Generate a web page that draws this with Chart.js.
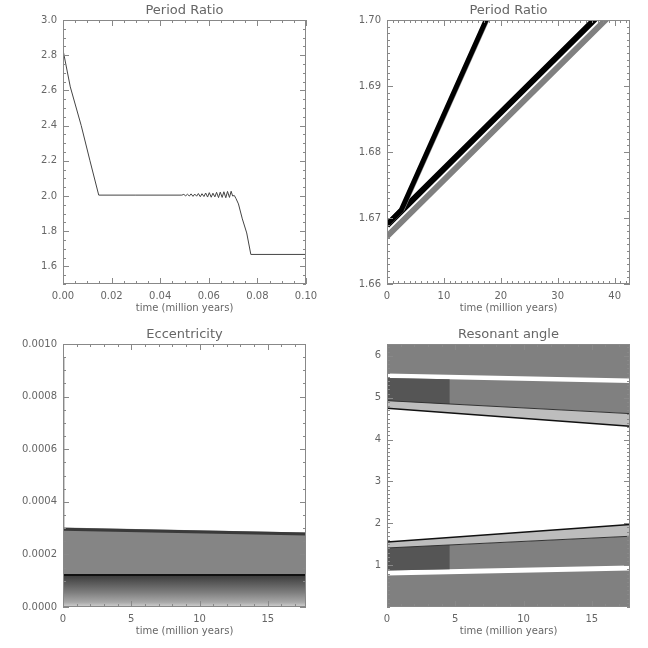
<!DOCTYPE html>
<html>
<head>
<meta charset="utf-8">
<script src="https://cdn.jsdelivr.net/npm/chart.js@4.4.1/dist/chart.umd.min.js"></script>
<style>
  body { margin: 0; background: #fff; }
  #wrap { position: relative; width: 648px; height: 648px; }
  canvas { position: absolute; }
</style>
</head>
<body>
<div id="wrap">
  <canvas id="c1" width="324" height="324" style="left:0;top:0"></canvas>
  <canvas id="c2" width="324" height="324" style="left:324px;top:0"></canvas>
  <canvas id="c3" width="324" height="324" style="left:0;top:324px"></canvas>
  <canvas id="c4" width="324" height="324" style="left:324px;top:324px"></canvas>
</div>
<script>
// top left: period ratio during migration
var ratioTime = [0, 0.0030, 0.0075, 0.0111, 0.0147, 0.0300, 0.0489,
  0.0497, 0.0505, 0.0512, 0.0520, 0.0527, 0.0535, 0.0542, 0.0550, 0.0557, 0.0565,
  0.0572, 0.0580, 0.0587, 0.0595, 0.0602, 0.0610, 0.0617, 0.0625, 0.0632, 0.0640,
  0.0647, 0.0655, 0.0662, 0.0670, 0.0677, 0.0685, 0.0692, 0.0698,
  0.0705, 0.0712, 0.0722, 0.0738, 0.0756, 0.0773, 0.1000];
var ratioValue = [2.83, 2.62, 2.40, 2.20, 2.005, 2.005, 2.005,
  2.009, 2.001, 2.010, 2.000, 2.012, 1.998, 2.011, 1.999, 2.014, 1.996,
  2.013, 1.997, 2.017, 1.994, 2.019, 1.993, 2.016, 1.995, 2.021, 1.991,
  2.022, 1.992, 2.024, 1.990, 2.026, 1.992, 2.027, 2.000,
  2.003, 1.985, 1.955, 1.870, 1.790, 1.668, 1.668];

// top right: period ratio, two slow divergent runs
var fastTime = [0, 2.5, 18.2];
var fastBlack = [1.6690, 1.6712, 1.7015];
var fastGrayTime = [0.45, 2.95, 18.65];
var slowTime = [0, 38.5, 41];
var slowBlack = [1.6689, 1.7018, 1.7040];
var slowGray = [1.6672, 1.7001, 1.7023];

// bottom left: eccentricity
var eccTime = [0, 17.8];
var eccUpper = [0.000302, 0.000283];
var eccEdge = [0.000296, 0.000278];
var eccLine = [0.000122, 0.000122];
var eccFloor = [0, 0];
var streakTime = [0.05, 0.05];
var streakValue = [0.00030, 0.00095];

// bottom right: resonant angle
var angTime = [0, 17.8];
var angTop = [6.2832, 6.2832];
var gapHiTop = [5.58, 5.46];
var gapHiBot = [5.47, 5.35];
var edgeHiOuter = [4.93, 4.62];
var edgeHi = [4.75, 4.32];
var edgeLo = [1.55, 1.97];
var edgeLoOuter = [1.41, 1.69];
var gapLoTop = [0.87, 0.99];
var gapLoBot = [0.75, 0.87];
var angFloor = [0, 0];
var blockTime = [0, 4.6];
var blockHiTop = [5.47, 5.44];
var blockHiBot = [4.93, 4.85];
var blockLoTop = [1.41, 1.48];
var blockLoBot = [0.87, 0.90];

// axis ticks
var ticksX1 = [0, 0.02, 0.04, 0.06, 0.08, 0.10];
var ticksY1 = [1.6, 1.8, 2.0, 2.2, 2.4, 2.6, 2.8, 3.0];
var ticksX2 = [0, 10, 20, 30, 40];
var ticksY2 = [1.66, 1.67, 1.68, 1.69, 1.70];
var ticksX34 = [0, 5, 10, 15];
var ticksY3 = [0, 0.0002, 0.0004, 0.0006, 0.0008, 0.0010];
var ticksY4 = [1, 2, 3, 4, 5, 6];

var textColor = '#666';
var boxColor = '#888';
var dots = '#808080';
var dotsDark = '#555';
var dotsLight = '#bdbdbd';

function pts(xs, ys) {
  return xs.map(function (x, i) { return { x: x, y: ys[i] }; });
}

function line(xs, ys, color, width, order) {
  return { data: pts(xs, ys), borderColor: color, borderWidth: width, pointRadius: 0, fill: false, clip: 0, order: order || 0 };
}

function band(xs, ys, color, order) {
  return { data: pts(xs, ys), borderColor: 'rgba(0,0,0,0)', borderWidth: 0, pointRadius: 0, fill: '+1', backgroundColor: color, clip: 0, order: order };
}

function edge(xs, ys) {
  return { data: pts(xs, ys), borderColor: 'rgba(0,0,0,0)', borderWidth: 0, pointRadius: 0, fill: false, clip: 0, order: 9 };
}

// IDL style box with inward ticks on all four sides
var idlTicks = {
  id: 'idlTicks',
  afterDraw: function (chart, args, opts) {
    var ctx = chart.ctx, a = chart.chartArea;
    var xs = chart.scales.x, ys = chart.scales.y;
    ctx.save();
    ctx.strokeStyle = boxColor;
    ctx.lineWidth = 1;
    ctx.strokeRect(a.left + 0.5, a.top + 0.5, a.right - a.left - 1, a.bottom - a.top - 1);
    ctx.beginPath();
    function onX(v, len) {
      var p = Math.round(xs.getPixelForValue(v)) + 0.5;
      ctx.moveTo(p, a.bottom); ctx.lineTo(p, a.bottom - len);
      ctx.moveTo(p, a.top); ctx.lineTo(p, a.top + len);
    }
    function onY(v, len) {
      var p = Math.round(ys.getPixelForValue(v)) + 0.5;
      ctx.moveTo(a.left, p); ctx.lineTo(a.left + len, p);
      ctx.moveTo(a.right, p); ctx.lineTo(a.right - len, p);
    }
    var k;
    for (k = Math.ceil(xs.min / opts.xMinor - 1e-6); k * opts.xMinor <= xs.max + 1e-9; k++) onX(k * opts.xMinor, 3);
    for (k = Math.ceil(ys.min / opts.yMinor - 1e-6); k * opts.yMinor <= ys.max + 1e-9; k++) onY(k * opts.yMinor, 3);
    opts.xMajor.forEach(function (v) { onX(v, 6); });
    opts.yMajor.forEach(function (v) { onY(v, 6); });
    ctx.stroke();
    ctx.restore();
  }
};

function axis(r, dir) {
  var o = {
    type: 'linear', min: r.min, max: r.max,
    grid: { display: false, drawTicks: false },
    border: { display: false },
    ticks: {
      autoSkip: false, maxRotation: 0, padding: 6, color: textColor,
      font: { family: 'DejaVu Sans', size: 10 },
      callback: function (v) { return Number(v).toFixed(r.digits); }
    },
    afterBuildTicks: function (s) { s.ticks = r.ticks.map(function (v) { return { value: v }; }); },
    afterFit: function (s) { if (dir === 'x') s.height = 40; else s.width = 63; }
  };
  if (dir === 'x') {
    o.title = { display: true, text: 'time (million years)', color: textColor,
      font: { family: 'DejaVu Sans', size: 10, lineHeight: 1.2 }, padding: { top: 0, bottom: 10 } };
  }
  return o;
}

function panel(id, title, datasets, xr, yr, bottomPad) {
  return new Chart(document.getElementById(id), {
    type: 'line',
    data: { datasets: datasets },
    options: {
      responsive: false, animation: false, devicePixelRatio: 1,
      layout: { autoPadding: false, padding: { left: 0, right: 18, top: 0, bottom: bottomPad } },
      plugins: {
        legend: { display: false },
        tooltip: { enabled: false },
        title: { display: true, fullSize: false, text: title, color: textColor,
          font: { family: 'DejaVu Sans', size: 13, weight: 'normal', lineHeight: 1 },
          padding: { top: 4, bottom: 3 } },
        idlTicks: { xMajor: xr.ticks, xMinor: xr.minor, yMajor: yr.ticks, yMinor: yr.minor }
      },
      scales: { x: axis(xr, 'x'), y: axis(yr, 'y') }
    },
    plugins: [idlTicks]
  });
}

panel('c1', 'Period Ratio',
  [line(ratioTime, ratioValue, '#444', 1)],
  { min: 0, max: 0.10, ticks: ticksX1, minor: 0.005, digits: 2 },
  { min: 1.5, max: 3.0, ticks: ticksY1, minor: 0.05, digits: 1 }, 0);

panel('c2', 'Period Ratio',
  [
    line(fastTime, fastBlack, '#000', 5, 0),
    line(fastGrayTime, fastBlack, '#8a8a8a', 1.5, 0),
    line(slowTime, slowBlack, '#000', 6, 1),
    line(slowTime, slowGray, dots, 6, 2)
  ],
  { min: 0, max: 42.7, ticks: ticksX2, minor: 1, digits: 0 },
  { min: 1.66, max: 1.70, ticks: ticksY2, minor: 0.001, digits: 2 }, 0);

function lowerShade(c) {
  var ch = c.chart, a = ch.chartArea;
  if (!a) return dots;
  var y = ch.scales.y;
  var g = ch.ctx.createLinearGradient(0, y.getPixelForValue(eccLine[0]), 0, a.bottom);
  g.addColorStop(0, '#3a3a3a');
  g.addColorStop(0.55, '#7e7e7e');
  g.addColorStop(0.85, '#a8a8a8');
  g.addColorStop(1, '#d2d2d2');
  return g;
}

panel('c3', 'Eccentricity',
  [
    line(eccTime, eccLine, '#111', 2, 0),
    line(eccTime, eccEdge, '#3a3a3a', 3, 0),
    line(streakTime, streakValue, '#8a8a8a', 1.5, 0),
    band(eccTime, eccUpper, '#858585', 5),
    edge(eccTime, eccLine),
    band(eccTime, eccLine, lowerShade, 5),
    edge(eccTime, eccFloor)
  ],
  { min: 0, max: 17.8, ticks: ticksX34, minor: 1, digits: 0 },
  { min: 0, max: 0.001, ticks: ticksY3, minor: 0.00005, digits: 4 }, 1);

panel('c4', 'Resonant angle',
  [
    line(angTime, edgeHi, '#111', 1.5, 0),
    line(angTime, edgeLo, '#111', 1.5, 0),
    line(angTime, edgeHiOuter, '#333', 1, 0),
    line(angTime, edgeLoOuter, '#333', 1, 0),
    band(angTime, angTop, dots, 6),
    edge(angTime, gapHiTop),
    band(angTime, gapHiBot, dots, 6),
    edge(angTime, edgeHiOuter),
    band(angTime, edgeHiOuter, dotsLight, 6),
    edge(angTime, edgeHi),
    band(angTime, edgeLo, dotsLight, 6),
    edge(angTime, edgeLoOuter),
    band(angTime, edgeLoOuter, dots, 6),
    edge(angTime, gapLoTop),
    band(angTime, gapLoBot, dots, 6),
    edge(angTime, angFloor),
    band(blockTime, blockHiTop, dotsDark, 3),
    edge(blockTime, blockHiBot),
    band(blockTime, blockLoTop, dotsDark, 3),
    edge(blockTime, blockLoBot)
  ],
  { min: 0, max: 17.8, ticks: ticksX34, minor: 1, digits: 0 },
  { min: 0, max: 6.2832, ticks: ticksY4, minor: 0.1, digits: 0 }, 1);
</script>
</body>
</html>
